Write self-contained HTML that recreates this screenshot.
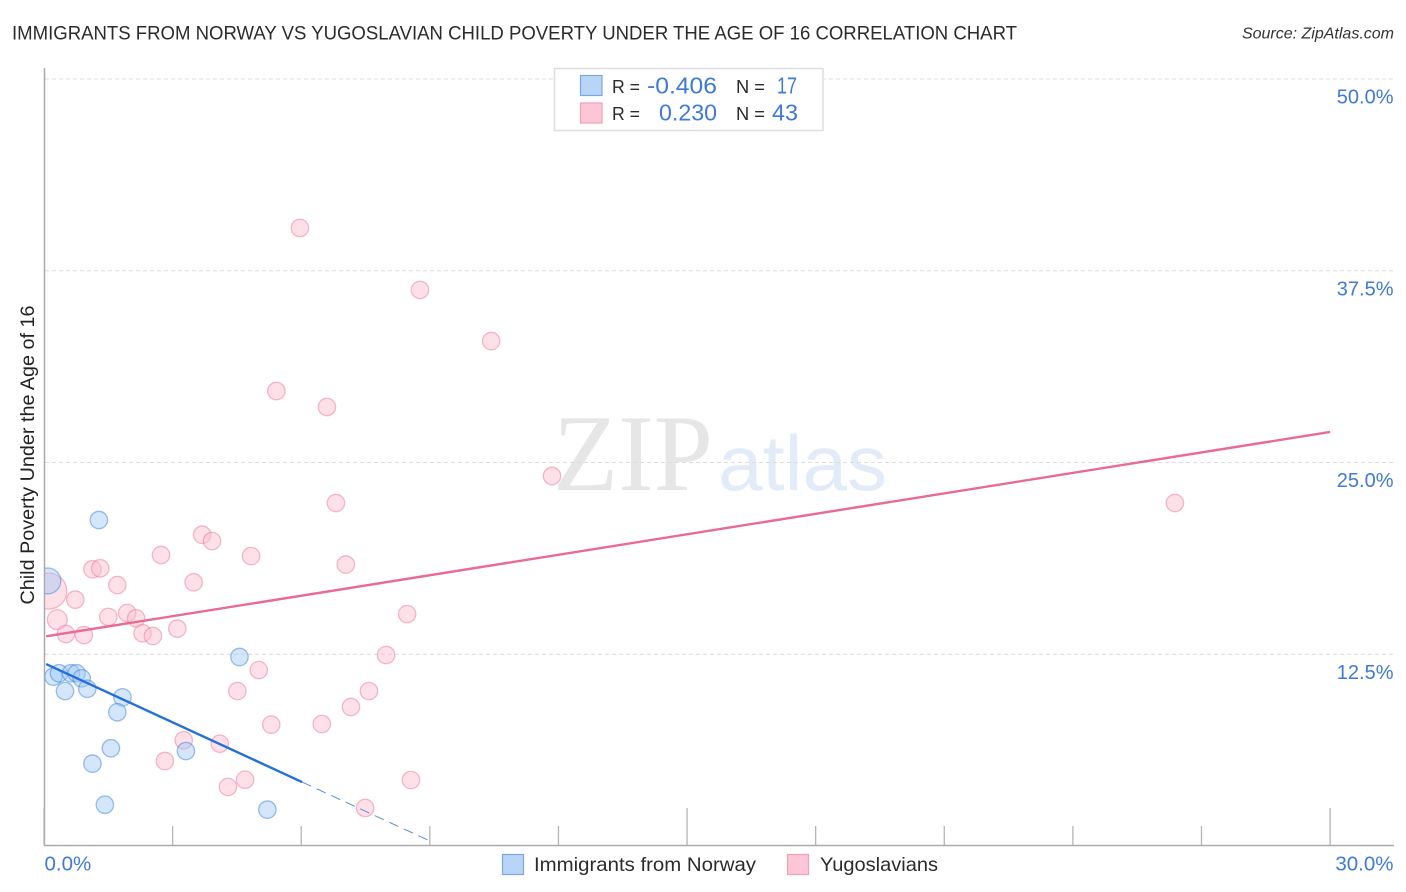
<!DOCTYPE html>
<html lang="en">
<head>
<meta charset="utf-8">
<title>Immigrants from Norway vs Yugoslavian Child Poverty Correlation Chart</title>
<style>
html,body{margin:0;padding:0;background:#fff;width:1406px;height:892px;overflow:hidden}
svg{display:block;font-family:"Liberation Sans",sans-serif}
</style>
</head>
<body>
<svg id="chart" width="1406" height="892" viewBox="0 0 1406 892">
  <defs>
    <clipPath id="plot-clip"><rect x="45" y="60" width="1349" height="785"/></clipPath>
  </defs>
  <text x="12" y="39.5" font-size="19" fill="#2b2b2b" textLength="1005" lengthAdjust="spacingAndGlyphs">IMMIGRANTS FROM NORWAY VS YUGOSLAVIAN CHILD POVERTY UNDER THE AGE OF 16 CORRELATION CHART</text>
  <text x="1394" y="38.5" font-size="16" font-style="italic" fill="#333" text-anchor="end">Source: ZipAtlas.com</text>

  <g>
    <text x="553" y="490" font-family="'Liberation Serif',serif" font-size="109" fill="#e6e6e6" textLength="160" lengthAdjust="spacingAndGlyphs">ZIP</text>
    <text x="718" y="490" font-size="78" fill="#e2ecf9" textLength="169" lengthAdjust="spacingAndGlyphs">atlas</text>
  </g>

  <g id="grid"></g>
  <g id="axes"></g>
  <g id="pink-points" clip-path="url(#plot-clip)"></g>
  <g id="blue-points" clip-path="url(#plot-clip)"></g>
  <g id="trends"></g>
  <g id="labels"></g>

  <text x="34" y="455" font-size="19" fill="#222" text-anchor="middle" transform="rotate(-90 34 455)" textLength="299" lengthAdjust="spacingAndGlyphs">Child Poverty Under the Age of 16</text>

  <g>
    <rect x="554.5" y="68.5" width="268.5" height="62" fill="#fff" stroke="#dedede" stroke-width="1.5"/>
    <rect x="580.5" y="75.5" width="21.5" height="20" fill="#b8d4f7" stroke="#7aa8e2" stroke-width="1.2"/>
    <rect x="580.5" y="103" width="21.5" height="20" fill="#fcc6d6" stroke="#f0a0b8" stroke-width="1.2"/>
    <text x="612" y="93" font-size="18" fill="#2b2b2b" textLength="28" lengthAdjust="spacingAndGlyphs">R =</text>
    <text x="647" y="93.5" font-size="23" fill="#3f7ad6" textLength="70" lengthAdjust="spacingAndGlyphs">-0.406</text>
    <text x="736" y="93" font-size="18" fill="#2b2b2b" textLength="29" lengthAdjust="spacingAndGlyphs">N =</text>
    <text x="777" y="93.5" font-size="23" fill="#3f7ad6" textLength="20" lengthAdjust="spacingAndGlyphs">17</text>
    <text x="612" y="120" font-size="18" fill="#2b2b2b" textLength="28" lengthAdjust="spacingAndGlyphs">R =</text>
    <text x="659" y="120.5" font-size="23" fill="#3f7ad6" textLength="58" lengthAdjust="spacingAndGlyphs">0.230</text>
    <text x="736" y="120" font-size="18" fill="#2b2b2b" textLength="29" lengthAdjust="spacingAndGlyphs">N =</text>
    <text x="772" y="120.5" font-size="23" fill="#3f7ad6" textLength="26" lengthAdjust="spacingAndGlyphs">43</text>
  </g>

  <g>
    <g>
      <rect x="502.5" y="854.5" width="21" height="20" fill="#b8d4f7" stroke="#7aa8e2" stroke-width="1.2"/>
      <text x="534" y="871" font-size="19.5" fill="#2b2b2b" textLength="222" lengthAdjust="spacingAndGlyphs">Immigrants from Norway</text>
    </g>
    <g>
      <rect x="787.5" y="854.5" width="21" height="20" fill="#fcc6d6" stroke="#f0a0b8" stroke-width="1.2"/>
      <text x="820" y="871" font-size="19.5" fill="#2b2b2b" textLength="118" lengthAdjust="spacingAndGlyphs">Yugoslavians</text>
    </g>
  </g>
</svg>
<script>
const xTickValues = [0, 3, 6, 9, 12, 15, 18, 21, 24, 27, 30];
const xMajorTicks = [0, 15, 30];
const xEdgeLabels = ['0.0%', '30.0%'];
const yTickValues = [12.5, 25, 37.5, 50];
const yTickLabels = ['12.5%', '25.0%', '37.5%', '50.0%'];

const norwayX = [1.28, 0.09, 0.22, 0.35, 0.63, 0.76, 0.88, 0.49, 1.01, 1.83, 1.71, 1.56, 1.13, 1.42, 4.56, 3.31, 5.21];
const norwayY = [21.25, 17.28, 11.04, 11.26, 11.26, 11.26, 10.93, 10.10, 10.25, 9.69, 8.72, 6.37, 5.37, 2.69, 12.32, 6.19, 2.37];
const norwayWeight = [1, 2.2, 1, 1, 1, 1, 1, 1, 1, 1, 1, 1, 1, 1, 1, 1, 1];

const yugoslavX = [0.11, 2.73, 3.69, 3.92, 4.83, 1.13, 1.31, 1.71, 3.49, 0.73, 0.31, 1.50, 1.94, 2.15, 0.51, 0.93, 2.30, 2.54, 3.11, 5.01, 4.51, 5.30, 6.48, 3.26, 4.10, 2.82, 4.69, 4.29, 5.97, 8.77, 10.43, 5.42, 6.60, 6.81, 11.85, 26.38, 7.04, 8.47, 7.98, 7.58, 7.16, 8.56, 7.49];
const yugoslavY = [16.62, 18.97, 20.29, 19.88, 18.90, 18.04, 18.10, 17.01, 17.19, 16.06, 14.75, 14.93, 15.19, 14.84, 13.82, 13.75, 13.87, 13.69, 14.17, 11.47, 10.10, 7.91, 7.95, 6.89, 6.67, 5.54, 4.32, 3.85, 40.29, 36.25, 32.92, 29.66, 28.62, 22.36, 24.12, 22.36, 18.35, 15.12, 12.45, 10.10, 9.06, 4.30, 2.48];
const yugoslavWeight = [4.3, 1, 1, 1, 1, 1, 1, 1, 1, 1, 1.3, 1, 1, 1, 1, 1, 1, 1, 1, 1, 1, 1, 1, 1, 1, 1, 1, 1, 1, 1, 1, 1, 1, 1, 1, 1, 1, 1, 1, 1, 1, 1, 1];

const norwayTrendX = [0.05, 6.02];
const norwayTrendY = [11.86, 4.17];
const norwayExtendX = [6.02, 9.03];
const norwayExtendY = [4.17, 0.29];
const yugoslavTrendX = [0.05, 30];
const yugoslavTrendY = [13.67, 26.99];

const NS = 'http://www.w3.org/2000/svg';
const xScale = function (v) { return 44 + v * 42.87; };
const yScale = function (v) { return 846 - v * 15.34; };
const radius = function (w) { return 8.7 * Math.sqrt(w); };
function make(tag, parentId, attrs) {
  const el = document.createElementNS(NS, tag);
  for (const k in attrs) el.setAttribute(k, attrs[k]);
  document.getElementById(parentId).appendChild(el);
  return el;
}

yTickValues.forEach(function (v, i) {
  const g = make('line', 'grid', {x1: 45, x2: 1394, y1: yScale(v), y2: yScale(v), stroke: '#dcdcdc', 'stroke-width': 1, 'stroke-dasharray': '4 3'});
  
  
  const t = make('text', 'labels', {x: 1393.5, y: yScale(v) + 24.5, 'font-size': 20, fill: '#3f7ad6', 'text-anchor': 'end'});
  t.textContent = yTickLabels[i];
  
  
});

const yAxis = make('line', 'axes', {x1: 44.5, x2: 44.5, y1: 68, y2: 846, stroke: '#aaa', 'stroke-width': 1.5});


const xAxis = make('line', 'axes', {x1: 44, x2: 1394, y1: 845.5, y2: 845.5, stroke: '#aaa', 'stroke-width': 1.5});



xTickValues.forEach(function (v) {
  const tall = xMajorTicks.indexOf(v) >= 0;
  const tick = make('line', 'axes', {x1: xScale(v), x2: xScale(v), y1: tall ? 808 : 826, y2: 845, stroke: '#b5b5b5', 'stroke-width': 1.3});
  
  
});

const x0Label = make('text', 'labels', {x: 44.5, y: 870.5, 'font-size': 20.5, fill: '#3f7ad6'});
x0Label.textContent = xEdgeLabels[0];


const x1Label = make('text', 'labels', {x: 1393.5, y: 870.5, 'font-size': 20.5, fill: '#3f7ad6', 'text-anchor': 'end'});
x1Label.textContent = xEdgeLabels[1];



yugoslavX.forEach(function (v, i) {
  const c = make('circle', 'pink-points', {cx: xScale(v), cy: yScale(yugoslavY[i]), r: radius(yugoslavWeight[i]), fill: 'rgba(252,190,208,0.48)', stroke: 'rgba(232,120,158,0.5)', 'stroke-width': 1.3});
  
  
});
norwayX.forEach(function (v, i) {
  const c = make('circle', 'blue-points', {cx: xScale(v), cy: yScale(norwayY[i]), r: radius(norwayWeight[i]), fill: 'rgba(160,200,245,0.45)', stroke: 'rgba(60,130,215,0.5)', 'stroke-width': 1.3});
  
  
});

const pinkLine = make('line', 'trends', {x1: xScale(yugoslavTrendX[0]), y1: yScale(yugoslavTrendY[0]), x2: xScale(yugoslavTrendX[1]), y2: yScale(yugoslavTrendY[1]), stroke: '#ea6a97', 'stroke-width': 2.4});


const blueLine = make('line', 'trends', {x1: xScale(norwayTrendX[0]), y1: yScale(norwayTrendY[0]), x2: xScale(norwayTrendX[1]), y2: yScale(norwayTrendY[1]), stroke: '#2470d8', 'stroke-width': 2.4});


const blueDash = make('line', 'trends', {x1: xScale(norwayExtendX[0]), y1: yScale(norwayExtendY[0]), x2: xScale(norwayExtendX[1]), y2: yScale(norwayExtendY[1]), stroke: '#5b8fd8', 'stroke-width': 1, 'stroke-dasharray': '10 6'});


</script>
</body>
</html>
